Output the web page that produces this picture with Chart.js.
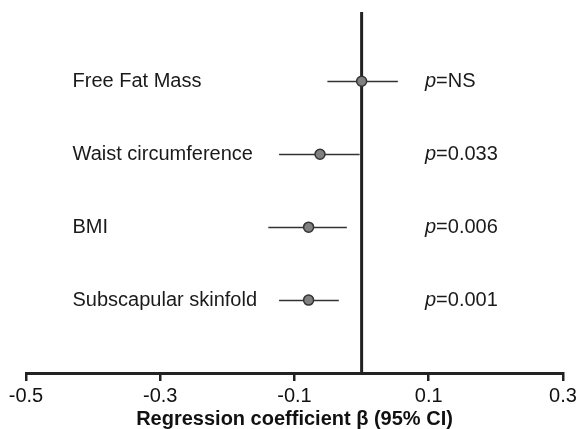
<!DOCTYPE html>
<html>
<head>
<meta charset="utf-8">
<style>
  html, body { margin: 0; padding: 0; background: #fff; }
  #wrap { width: 577px; height: 429px; }
</style>
<script src="https://cdn.jsdelivr.net/npm/chart.js@4/dist/chart.umd.min.js"></script>
</head>
<body>
<div id="wrap"><canvas id="forest"></canvas></div>
<script>
// rows from top to bottom
const measures = ['Free Fat Mass', 'Waist circumference', 'BMI', 'Subscapular skinfold'];
const beta = [0.0, -0.062, -0.079, -0.079];
const ciLow = [-0.051, -0.123, -0.139, -0.123];
const ciHigh = [0.054, -0.003, -0.022, -0.034];
const pText = ['NS', '0.033', '0.006', '0.001'];
const xTicks = [-0.5, -0.3, -0.1, 0.1, 0.3];

const FONT = 'Liberation Sans, Arial, Helvetica, sans-serif';
const yMax = measures.length + 0.95;
const rowY = measures.map((m, i) => measures.length - i);

// whiskers + row labels + p values, drawn through the scales
const forestPlugin = {
  id: 'forest',
  beforeDatasetsDraw(chart) {
    const { ctx, scales: { x, y } } = chart;
    ctx.save();
    ctx.strokeStyle = '#333';
    ctx.lineWidth = 1.5;
    measures.forEach((m, i) => {
      const py = Math.round(y.getPixelForValue(rowY[i])) + 0.5;
      ctx.beginPath();
      ctx.moveTo(x.getPixelForValue(ciLow[i]), py);
      ctx.lineTo(x.getPixelForValue(ciHigh[i]), py);
      ctx.stroke();
    });
    ctx.restore();
  },
  afterDraw(chart) {
    const { ctx, scales: { x, y } } = chart;
    ctx.save();
    ctx.fillStyle = '#1a1a1a';
    ctx.textBaseline = 'middle';
    measures.forEach((m, i) => {
      const py = y.getPixelForValue(rowY[i]);
      ctx.font = '20px ' + FONT;
      ctx.fillText(m, 72.5, py);
      ctx.font = 'italic 20px ' + FONT;
      ctx.fillText('p', 425, py);
      const w = ctx.measureText('p').width;
      ctx.font = '20px ' + FONT;
      ctx.fillText('=' + pText[i], 425 + w, py);
    });
    ctx.restore();
  }
};

new Chart(document.getElementById('forest'), {
  type: 'scatter',
  data: {
    datasets: [
      {
        type: 'line',
        data: [{ x: 0, y: 0 }, { x: 0, y: yMax }],
        borderColor: '#222',
        borderWidth: 3,
        pointRadius: 0,
        order: 2
      },
      {
        data: beta.map((b, i) => ({ x: b, y: rowY[i] })),
        backgroundColor: '#808080',
        borderColor: '#333',
        borderWidth: 1.5,
        pointRadius: 5,
        order: 1
      }
    ]
  },
  options: {
    responsive: true,
    maintainAspectRatio: false,
    animation: false,
    layout: { padding: { left: 26, right: 14, top: 12, bottom: 0 } },
    plugins: { legend: { display: false }, tooltip: { enabled: false } },
    scales: {
      x: {
        type: 'linear',
        min: -0.5,
        max: 0.3,
        afterBuildTicks(scale) { scale.ticks = xTicks.map(v => ({ value: v })); },
        afterFit(scale) { scale.paddingLeft = 0; scale.paddingRight = 0; },
        border: { display: true, color: '#222', width: 3 },
        grid: { drawOnChartArea: false, drawTicks: true, tickLength: 8, color: '#222', lineWidth: 2.5 },
        ticks: {
          color: '#111',
          font: { family: FONT, size: 20, lineHeight: 1 },
          padding: 5,
          maxRotation: 0,
          callback: v => String(v)
        },
        title: {
          display: true,
          text: 'Regression coefficient β (95% CI)',
          color: '#111',
          font: { family: FONT, size: 20, weight: 'bold', lineHeight: 1 },
          padding: { top: -2, bottom: 0 }
        }
      },
      y: { type: 'linear', min: 0, max: yMax, display: false }
    }
  },
  plugins: [forestPlugin]
});
</script>
</body>
</html>
